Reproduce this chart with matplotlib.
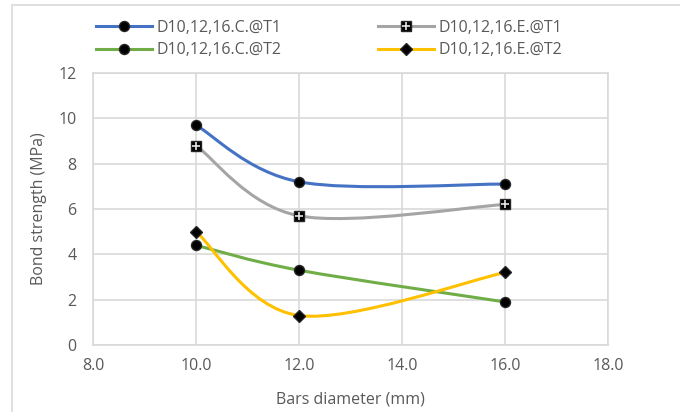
"""Bond strength vs bar diameter for the C and E specimens at T1/T2."""
import numpy as np
import matplotlib.pyplot as plt
from matplotlib.path import Path
from matplotlib.patches import PathPatch, Rectangle
from matplotlib.lines import Line2D

plt.rcParams["font.family"] = ["Open Sans", "DejaVu Sans"]

diameters = [10.0, 12.0, 16.0]
c_t1 = [9.7, 7.2, 7.1]
e_t1 = [8.8, 5.7, 6.2]
c_t2 = [4.4, 3.3, 1.9]
e_t2 = [5.0, 1.3, 3.2]
labels = ["D10,12,16.C.@T1", "D10,12,16.E.@T1", "D10,12,16.C.@T2", "D10,12,16.E.@T2"]

TEXT = "#595959"
GRID = "#d9d9d9"
FS = 11.5


def smooth_path(x, y):
    """Excel-style smoothed line: cubic Bezier through every point."""
    p = np.column_stack([x, y]).astype(float)
    n = len(p)
    verts = [p[0]]
    codes = [Path.MOVETO]
    for i in range(n - 1):
        prev = p[max(i - 1, 0)]
        nxt = p[min(i + 2, n - 1)]
        c1 = p[i] + (p[i + 1] - prev) / 6
        c2 = p[i + 1] - (nxt - p[i]) / 6
        verts += [c1, c2, p[i + 1]]
        codes += [Path.CURVE4] * 3
    return Path(verts, codes)


fig = plt.figure(figsize=(6.8, 4.12), dpi=100)
ax = fig.add_axes([93 / 680, 1 - 345 / 412, 515 / 680, 272 / 412])

# outer chart border
fig.patches.append(Rectangle((12 / 680, -0.05), 1.0, 1.05 - 5 / 412,
                             transform=fig.transFigure, fill=False,
                             edgecolor=GRID, linewidth=1.2))

series = [
    (c_t1, "#4472C4", "o"),
    (e_t1, "#A5A5A5", "s"),
    (c_t2, "#70AD47", "o"),
    (e_t2, "#FFC000", "D"),
]

handles = []
for vals, color, marker in series:
    ax.add_patch(PathPatch(smooth_path(diameters, vals), facecolor="none",
                           edgecolor=color, linewidth=2.2, zorder=3,
                           capstyle="round"))
    ms = {"o": 7.2, "s": 7.8, "D": 6.6}[marker]
    ax.plot(diameters, vals, linestyle="none", marker=marker, markersize=ms,
            color="black", markeredgecolor="#262626", zorder=4)
    h = Line2D([], [], color=color, linewidth=2.2, marker=marker,
               markersize=ms, markerfacecolor="black", markeredgecolor="#262626")
    if marker == "s":
        ax.plot(diameters, vals, linestyle="none", marker="+", markersize=5.5,
                markeredgewidth=1.2, color="#e6e6e6", zorder=5)
        plus = Line2D([], [], linestyle="none", marker="+", markersize=5.5,
                      markeredgewidth=1.2, color="#e6e6e6")
        h = (h, plus)
    handles.append(h)

ax.set_xlim(8, 18)
ax.set_ylim(0, 12)
xt = np.arange(8, 18.1, 2)
ax.set_xticks(xt)
ax.set_xticklabels([f"{v:.1f}" for v in xt])
ax.set_yticks(np.arange(0, 12.1, 2))
ax.grid(True, color=GRID, linewidth=1.2)
ax.set_axisbelow(True)
for s in ax.spines.values():
    s.set_color(GRID)
    s.set_linewidth(1.2)
ax.tick_params(axis="x", length=0, labelsize=FS, labelcolor=TEXT, pad=9)
ax.tick_params(axis="y", length=0, labelsize=FS, labelcolor=TEXT, pad=12)

ax.set_xlabel("Bars diameter (mm)", fontsize=FS, color=TEXT, va="center")
ax.set_ylabel("Bond strength (MPa)", fontsize=FS, color=TEXT, va="center")
ax.xaxis.set_label_coords(0.5, -55 / 272)
ax.yaxis.set_label_coords(-54 / 515, 0.5)

# legend is filled row by row
order = [0, 2, 1, 3]
fig.legend([handles[i] for i in order], [labels[i] for i in order],
           ncol=2, frameon=False, fontsize=FS, labelcolor=TEXT,
           loc="center", bbox_to_anchor=(0.484, 1 - 39 / 412),
           columnspacing=6.0, handlelength=3.5, handletextpad=0.3,
           labelspacing=0.42)

fig.savefig("out.png", dpi=100)
